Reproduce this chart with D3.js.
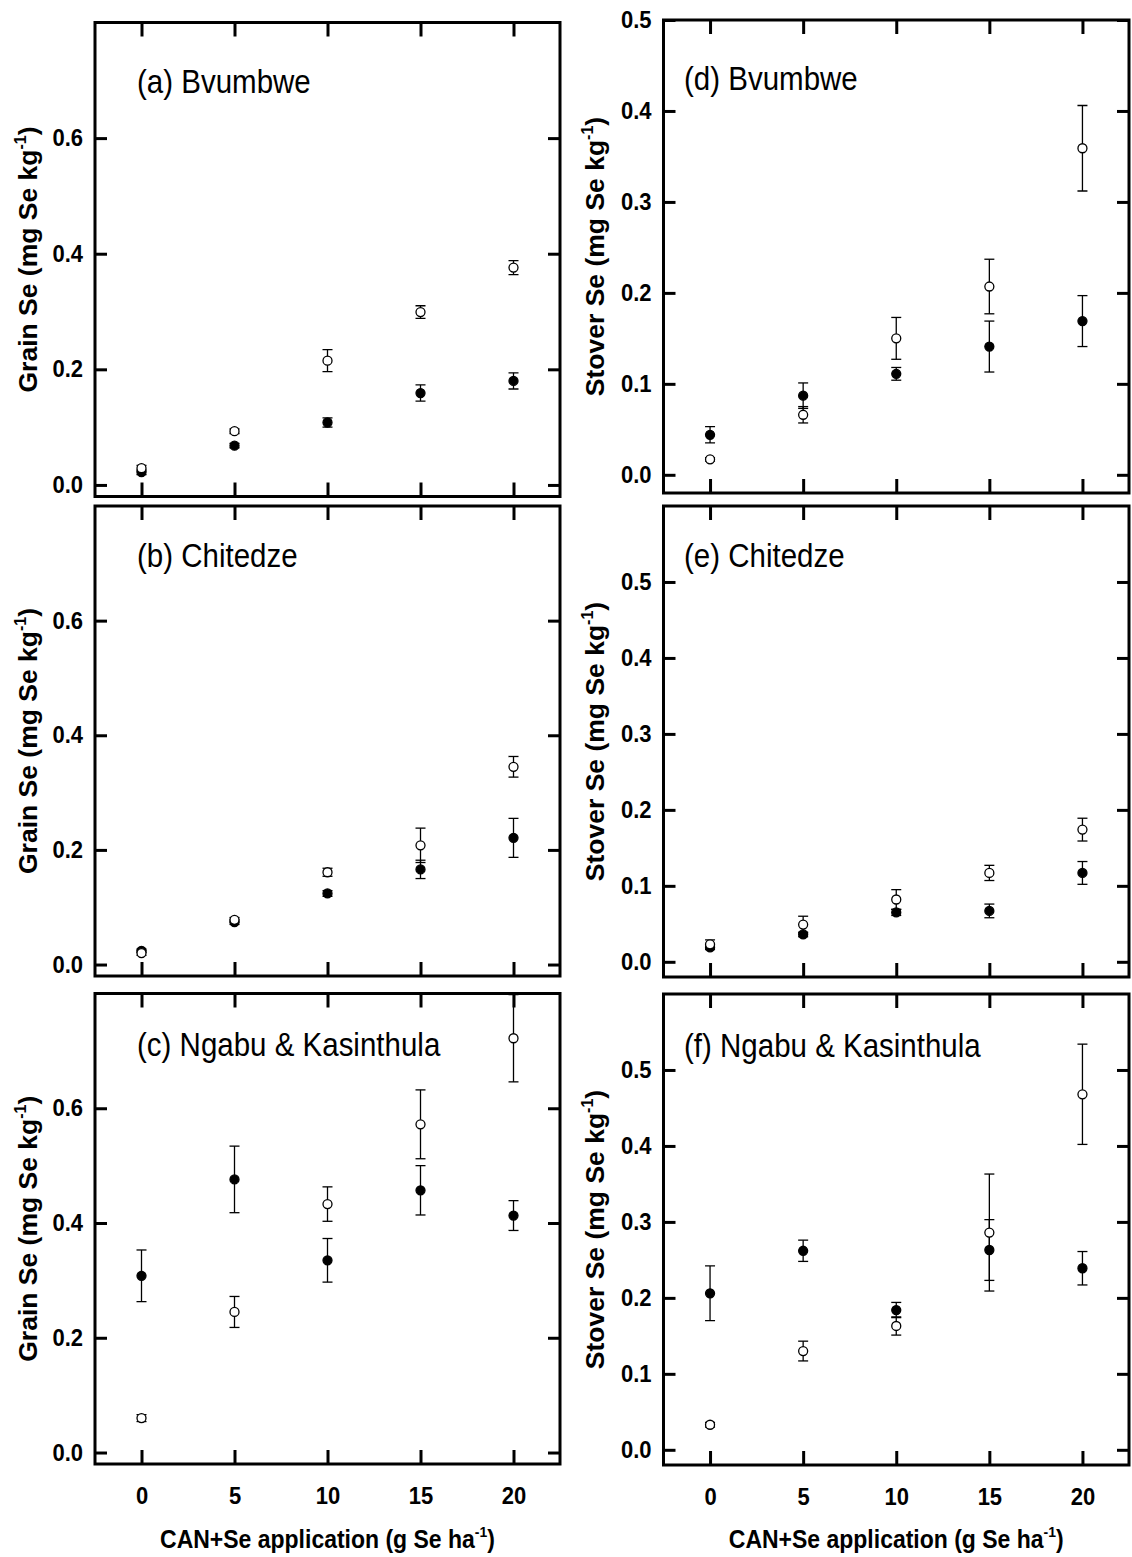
<!DOCTYPE html>
<html>
<head>
<meta charset="utf-8">
<script src="https://cdn.jsdelivr.net/npm/d3@7"></script>
<style>
  html, body { margin: 0; padding: 0; background: #fff; }
  text { font-family: 'Liberation Sans', Arial, sans-serif; fill: #000; }
</style>
</head>
<body>
<svg id="chart" width="1132" height="1557"></svg>
<script>
// CAN+Se application rates (g Se ha-1)
const rates = [0, 5, 10, 15, 20]

// grain Se (mg Se kg-1), mean and error per rate
const grainBvumbweOpen = [0.029, 0.093, 0.215, 0.299, 0.376]
const grainBvumbweOpenErr = [0.005, 0.004, 0.019, 0.011, 0.012]
const grainBvumbweFilled = [0.022, 0.068, 0.108, 0.159, 0.18]
const grainBvumbweFilledErr = [0.004, 0.004, 0.008, 0.014, 0.014]

const grainChitedzeOpen = [0.02, 0.078, 0.161, 0.208, 0.345]
const grainChitedzeOpenErr = [0.004, 0.004, 0.007, 0.03, 0.018]
const grainChitedzeFilled = [0.024, 0.074, 0.124, 0.166, 0.221]
const grainChitedzeFilledErr = [0.003, 0.004, 0.005, 0.016, 0.034]

const grainNgabuOpen = [0.06, 0.245, 0.433, 0.572, 0.722]
const grainNgabuOpenErr = [0.006, 0.027, 0.03, 0.06, 0.076]
const grainNgabuFilled = [0.308, 0.476, 0.335, 0.457, 0.413]
const grainNgabuFilledErr = [0.045, 0.058, 0.038, 0.043, 0.026]

// stover Se (mg Se kg-1)
const stoverBvumbweOpen = [0.017, 0.066, 0.15, 0.207, 0.359]
const stoverBvumbweOpenErr = [0.002, 0.009, 0.023, 0.03, 0.047]
const stoverBvumbweFilled = [0.044, 0.087, 0.111, 0.141, 0.169]
const stoverBvumbweFilledErr = [0.009, 0.014, 0.007, 0.028, 0.028]

const stoverChitedzeOpen = [0.023, 0.049, 0.082, 0.117, 0.174]
const stoverChitedzeOpenErr = [0.006, 0.011, 0.013, 0.01, 0.015]
const stoverChitedzeFilled = [0.019, 0.036, 0.065, 0.067, 0.117]
const stoverChitedzeFilledErr = [0.003, 0.003, 0.004, 0.009, 0.015]

const stoverNgabuOpen = [0.033, 0.13, 0.163, 0.286, 0.468]
const stoverNgabuOpenErr = [0.003, 0.013, 0.012, 0.077, 0.066]
const stoverNgabuFilled = [0.206, 0.262, 0.184, 0.263, 0.239]
const stoverNgabuFilledErr = [0.036, 0.014, 0.01, 0.04, 0.022]

// axis ranges and tick labels
const grainTicks = [0, 0.2, 0.4, 0.6]
const stoverTicks = [0, 0.1, 0.2, 0.3, 0.4, 0.5]
const titles = ['(a) Bvumbwe', '(b) Chitedze', '(c) Ngabu & Kasinthula',
  '(d) Bvumbwe', '(e) Chitedze', '(f) Ngabu & Kasinthula']

const panels = [
  { title: titles[0], col: 0, row: 0, yMax: 0.8, ticks: grainTicks, ylab: 'Grain Se',
    open: grainBvumbweOpen, openErr: grainBvumbweOpenErr, filled: grainBvumbweFilled, filledErr: grainBvumbweFilledErr },
  { title: titles[1], col: 0, row: 1, yMax: 0.8, ticks: grainTicks, ylab: 'Grain Se',
    open: grainChitedzeOpen, openErr: grainChitedzeOpenErr, filled: grainChitedzeFilled, filledErr: grainChitedzeFilledErr },
  { title: titles[2], col: 0, row: 2, yMax: 0.8, ticks: grainTicks, ylab: 'Grain Se',
    open: grainNgabuOpen, openErr: grainNgabuOpenErr, filled: grainNgabuFilled, filledErr: grainNgabuFilledErr },
  { title: titles[3], col: 1, row: 0, yMax: 0.5, ticks: stoverTicks, ylab: 'Stover Se',
    open: stoverBvumbweOpen, openErr: stoverBvumbweOpenErr, filled: stoverBvumbweFilled, filledErr: stoverBvumbweFilledErr },
  { title: titles[4], col: 1, row: 1, yMax: 0.6, ticks: stoverTicks, ylab: 'Stover Se',
    open: stoverChitedzeOpen, openErr: stoverChitedzeOpenErr, filled: stoverChitedzeFilled, filledErr: stoverChitedzeFilledErr },
  { title: titles[5], col: 1, row: 2, yMax: 0.6, ticks: stoverTicks, ylab: 'Stover Se',
    open: stoverNgabuOpen, openErr: stoverNgabuOpenErr, filled: stoverNgabuFilled, filledErr: stoverNgabuFilledErr },
]

// layout (pixels)
const cols = [
  { x0: 95, x1: 560, titleX: 137, labelX: 37 },
  { x0: 663.5, x1: 1129, titleX: 684, labelX: 604 },
]
const rows = [
  [{ top: 22.5, bottom: 496.5, titleDy: 70 }, { top: 20, bottom: 493, titleDy: 70 }],
  [{ top: 506, bottom: 976, titleDy: 61 }, { top: 506, bottom: 977, titleDy: 61 }],
  [{ top: 993.5, bottom: 1464, titleDy: 62 }, { top: 994, bottom: 1465, titleDy: 63 }],
]

// the source glyphs are slightly taller than Arial
const stretch = 'scale(1,1.08)'

const svg = d3.select('#chart')
svg.append('rect').attr('width', 1132).attr('height', 1557).attr('fill', '#fff')

const fmt = d3.format('.1f')

panels.forEach((p, i) => {
  const c = cols[p.col]
  const r = rows[p.row][p.col]
  const isBottom = p.row === 2

  const x = d3.scaleLinear().domain([-2.5, 22.5]).range([c.x0, c.x1])
  const y = d3.scaleLinear().domain([-0.02, p.yMax]).range([r.bottom, r.top])

  const g = svg.append('g').attr('class', 'panel')

  g.append('clipPath')
    .attr('id', 'clip' + i)
    .append('rect')
    .attr('x', c.x0)
    .attr('y', r.top)
    .attr('width', c.x1 - c.x0)
    .attr('height', r.bottom - r.top)

  // axes with inward ticks on all four sides
  const left = g.append('g')
    .attr('transform', 'translate(' + c.x0 + ',0)')
    .call(d3.axisLeft(y).tickValues(p.ticks).tickSize(-12).tickPadding(12).tickFormat(fmt))
  const right = g.append('g')
    .attr('transform', 'translate(' + c.x1 + ',0)')
    .call(d3.axisRight(y).tickValues(p.ticks).tickSize(-12).tickFormat(''))
  const bottom = g.append('g')
    .attr('transform', 'translate(0,' + r.bottom + ')')
    .call(d3.axisBottom(x).tickValues(rates).tickSize(-14).tickPadding(21)
      .tickFormat(isBottom ? d3.format('d') : ''))
  const top = g.append('g')
    .attr('transform', 'translate(0,' + r.top + ')')
    .call(d3.axisTop(x).tickValues(rates).tickSize(-14).tickFormat(''))

  ;[left, right, bottom, top].forEach(a => {
    a.select('.domain').remove()
    a.selectAll('.tick line').attr('stroke', '#000').attr('stroke-width', 3)
    a.selectAll('.tick text')
      .style('font-family', "'Liberation Sans', Arial, sans-serif")
      .style('font-weight', 'bold')
      .style('font-size', '22px')
      .attr('fill', '#000')
      .attr('transform', stretch)
  })

  // frame
  g.append('rect')
    .attr('x', c.x0)
    .attr('y', r.top)
    .attr('width', c.x1 - c.x0)
    .attr('height', r.bottom - r.top)
    .attr('fill', 'none')
    .attr('stroke', '#000')
    .attr('stroke-width', 3)

  const plot = g.append('g').attr('clip-path', 'url(#clip' + i + ')')

  const series = [
    { mean: p.filled, err: p.filledErr, fill: '#000' },
    { mean: p.open, err: p.openErr, fill: '#fff' },
  ]

  series.forEach(s => {
    const pts = rates.map((v, j) => ({ x: v, m: s.mean[j], e: s.err[j] }))
    const bars = plot.append('g')
      .selectAll('g')
      .data(pts)
      .enter()
      .append('g')
      .attr('stroke', '#000')
      .attr('stroke-width', 1.3)
    bars.append('line')
      .attr('x1', d => x(d.x)).attr('x2', d => x(d.x))
      .attr('y1', d => y(d.m - d.e)).attr('y2', d => y(d.m + d.e))
    bars.append('line')
      .attr('x1', d => x(d.x) - 5).attr('x2', d => x(d.x) + 5)
      .attr('y1', d => y(d.m + d.e)).attr('y2', d => y(d.m + d.e))
    bars.append('line')
      .attr('x1', d => x(d.x) - 5).attr('x2', d => x(d.x) + 5)
      .attr('y1', d => y(d.m - d.e)).attr('y2', d => y(d.m - d.e))
  })

  series.forEach(s => {
    plot.append('g')
      .selectAll('circle')
      .data(rates.map((v, j) => ({ x: v, m: s.mean[j] })))
      .enter()
      .append('circle')
      .attr('cx', d => x(d.x))
      .attr('cy', d => y(d.m))
      .attr('r', 4.5)
      .attr('fill', s.fill)
      .attr('stroke', '#000')
      .attr('stroke-width', 1.3)
  })

  // panel title
  g.append('text')
    .attr('transform', 'translate(' + c.titleX + ',' + (r.top + r.titleDy) + ') scale(1,1.12)')
    .style('font-size', '29.5px')
    .text(p.title)

  // y axis label
  const yl = g.append('text')
    .attr('transform', 'translate(' + c.labelX + ',' + (r.top + r.bottom) / 2 + ') rotate(-90)')
    .attr('text-anchor', 'middle')
    .style('font-size', '26.5px')
    .style('font-weight', 'bold')
  yl.append('tspan').text(p.ylab + ' (mg Se kg')
  yl.append('tspan').attr('dy', -11).style('font-size', '16px').text('-1')
  yl.append('tspan').attr('dy', 11).text(')')

  // x axis label on the bottom row
  if (isBottom) {
    const xl = g.append('text')
      .attr('transform', 'translate(' + (c.x0 + c.x1) / 2 + ',1548) scale(1,1.1)')
      .attr('text-anchor', 'middle')
      .style('font-size', '23px')
      .style('font-weight', 'bold')
    xl.append('tspan').text('CAN+Se application (g Se ha')
    xl.append('tspan').attr('dy', -10).style('font-size', '14px').text('-1')
    xl.append('tspan').attr('dy', 10).text(')')
  }
})
</script>
</body>
</html>
